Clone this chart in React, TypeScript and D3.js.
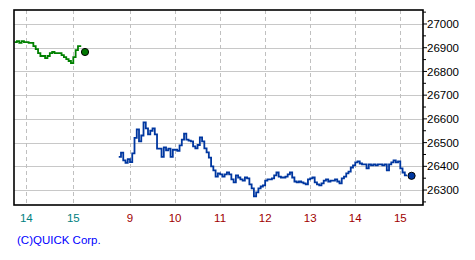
import React from "react";
import * as d3 from "d3";

// Previous day session (13:45 – 15:09, 3-min steps) and close dot at 15:15
const prevStart = -10.25; // 13:45 of the previous day, hours relative to today 0:00
const prevValues = [26924, 26928, 26920, 26928, 26924, 26924, 26920, 26920, 26907, 26894, 26877, 26865, 26865, 26856, 26865, 26877, 26882, 26877, 26877, 26877, 26869, 26860, 26852, 26844, 26835, 26860, 26890, 26907, 26903];
const prevClose = 26882;

// Today's session (8:45 – 15:09, 3-min steps) and close dot at 15:15
const dayStart = 8.75;
const dayValues = [
  26440, 26458, 26425, 26415, 26430, 26418, 26455, 26520, 26556, 26505,
  26530, 26585, 26560, 26535, 26550, 26560, 26535, 26475, 26475, 26440,
  26480, 26467, 26475, 26440, 26470, 26470, 26465, 26488, 26513, 26538,
  26513, 26508, 26505, 26484, 26476, 26490, 26522, 26505, 26476, 26459,
  26437, 26400, 26383, 26357, 26370, 26366, 26357, 26366, 26374, 26366,
  26345, 26332, 26362, 26353, 26345, 26340, 26353, 26349, 26324, 26307,
  26273, 26290, 26307, 26315, 26320, 26340, 26345, 26345, 26349, 26362,
  26374, 26357, 26353, 26353, 26357, 26366, 26374, 26353, 26336, 26332,
  26336, 26332, 26328, 26324, 26345, 26349, 26353, 26332, 26324, 26320,
  26328, 26340, 26345, 26336, 26340, 26340, 26345, 26336, 26328, 26349,
  26357, 26370, 26378, 26395, 26404, 26417, 26421, 26412, 26408, 26408,
  26391, 26408, 26404, 26408, 26404, 26408, 26408, 26404, 26408, 26383,
  26408, 26417, 26425, 26417, 26421, 26391, 26374, 26362, 26362,
];
const dayClose = 26360;
const stepHours = 3 / 60;
const closeTime = 15.25;

const prevTickHours = [-10, -9];
const prevTickLabels = ["14", "15"];
const dayTickHours = [9, 10, 11, 12, 13, 14, 15];
const dayTickLabels = ["9", "10", "11", "12", "13", "14", "15"];
const yTicks = [26300, 26400, 26500, 26600, 26700, 26800, 26900, 27000];
const yMinorTicks = [26250, 26350, 26450, 26550, 26650, 26750, 26850, 26950, 27050];

const W = 475, H = 260;
const L = 14, T = 10, R = 423, B = 205;

export default function App() {
  const x = d3
    .scaleLinear()
    .domain([-10, -9, -8.75, 8.75, 9, 15])
    .range([26.3, 73.3, 85, 118.75, 130, 400.3]);
  const y = d3.scaleLinear().domain([26237, 27059]).range([B, T]);

  const prevPts: [number, number][] = prevValues.map((v, i) => [prevStart + i * stepHours, v]);
  const dayPts: [number, number][] = dayValues.map((v, i) => [dayStart + i * stepHours, v]);

  const line = d3
    .line<[number, number]>()
    .x((d) => x(d[0]))
    .y((d) => y(d[1]))
    .curve(d3.curveStepAfter);

  const font = "'Liberation Sans', Arial, sans-serif";
  const vGrid = [...prevTickHours, ...dayTickHours];

  return (
    <svg
      width={W}
      height={H}
      style={{ position: "fixed", left: 0, top: 0, background: "#fff" }}
    >
      <rect x={0} y={0} width={W} height={H} fill="#fff" />
      <defs>
        <clipPath id="plot">
          <rect x={L} y={T} width={R - L} height={B - T} />
        </clipPath>
      </defs>
      {yTicks.map((t) => (
        <line
          key={"hg" + t}
          x1={L}
          x2={R}
          y1={Math.round(y(t)) + 0.5}
          y2={Math.round(y(t)) + 0.5}
          stroke="#c8c8c8"
          strokeWidth={1}
        />
      ))}
      {vGrid.map((h) => (
        <line
          key={"vg" + h}
          x1={Math.round(x(h)) + 0.5}
          x2={Math.round(x(h)) + 0.5}
          y1={T}
          y2={B}
          stroke="#c0c0c0"
          strokeWidth={1}
          strokeDasharray="4,3"
        />
      ))}
      <g clipPath="url(#plot)">
        <path d={line(prevPts) || ""} fill="none" stroke="#008000" strokeWidth={1.8} />
        <path d={line(dayPts) || ""} fill="none" stroke="#0037a0" strokeWidth={1.8} />
      </g>
      <circle cx={x(closeTime - 24)} cy={y(prevClose)} r={3.6} fill="#007800" stroke="#000" strokeWidth={1} />
      <circle cx={x(closeTime)} cy={y(dayClose)} r={3.6} fill="#0037a0" stroke="#000" strokeWidth={1} />
      <rect
        x={L}
        y={T}
        width={R - L}
        height={B - T}
        fill="none"
        stroke="#000"
        strokeWidth={1.6}
      />
      {yTicks.map((t) => (
        <line key={"yt" + t} x1={R} x2={R + 4} y1={y(t)} y2={y(t)} stroke="#000" strokeWidth={1} />
      ))}
      {yMinorTicks.map((t) => (
        <line key={"ym" + t} x1={R} x2={R + 3} y1={y(t)} y2={y(t)} stroke="#000" strokeWidth={1} />
      ))}
      {yTicks.map((t) => (
        <text
          key={"yl" + t}
          x={427}
          y={y(t)}
          dy="0.36em"
          fontFamily={font}
          fontSize={11.5}
          fill="#000"
        >
          {t}
        </text>
      ))}
      {prevTickHours.map((h, i) => (
        <text
          key={"pl" + h}
          x={x(h)}
          y={222}
          textAnchor="middle"
          fontFamily={font}
          fontSize={11.5}
          fill="#008080"
        >
          {prevTickLabels[i]}
        </text>
      ))}
      {dayTickHours.map((h, i) => (
        <text
          key={"dl" + h}
          x={x(h)}
          y={222}
          textAnchor="middle"
          fontFamily={font}
          fontSize={11.5}
          fill="#a00000"
        >
          {dayTickLabels[i]}
        </text>
      ))}
      <text x={17} y={244} fontFamily={font} fontSize={11.5} fill="#0000ff">
        (C)QUICK Corp.
      </text>
    </svg>
  );
}
